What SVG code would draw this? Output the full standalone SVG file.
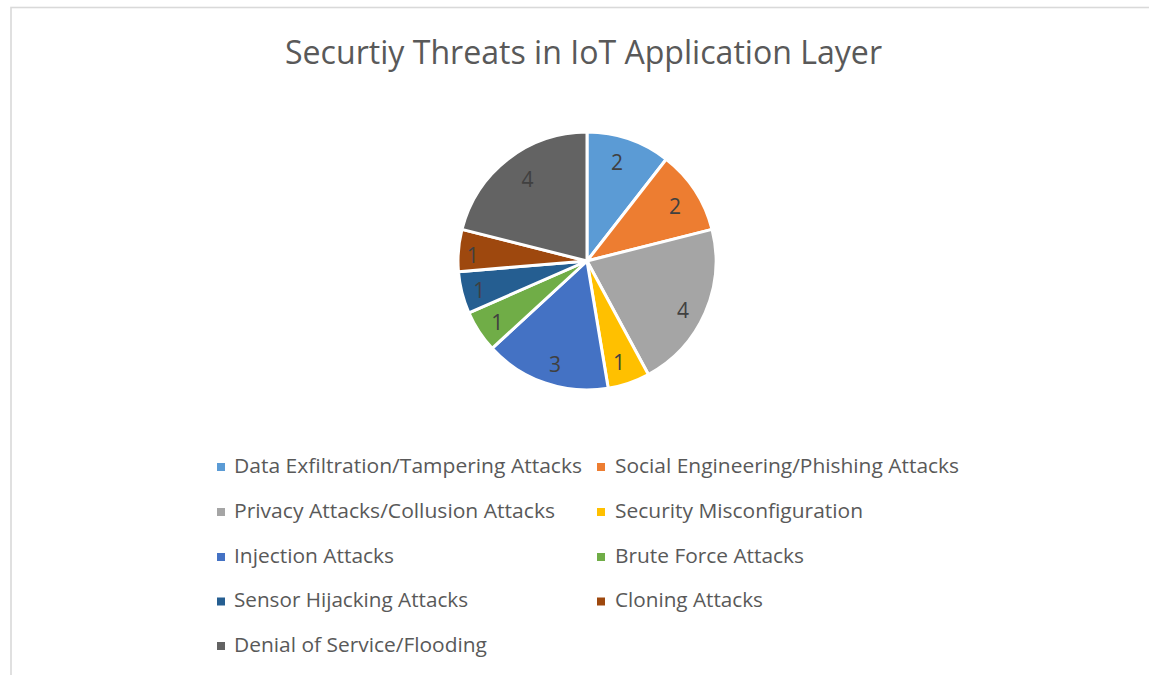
<svg xmlns="http://www.w3.org/2000/svg" width="1149" height="675" viewBox="0 0 1149 675">
<style>
.slice{stroke:#ffffff;stroke-width:3;stroke-linejoin:round}
.lbl{font-family:"Open Sans","Liberation Sans",sans-serif;font-size:21px;fill:#404040;text-anchor:middle}
.leg{font-family:"Open Sans","Liberation Sans",sans-serif;font-size:19.5px;fill:#595959}
.title{font-family:"Open Sans","Liberation Sans",sans-serif;font-size:33px;fill:#595959}
</style>
<rect x="0" y="0" width="1149" height="675" fill="#ffffff"/>
<rect x="11" y="7.5" width="1200" height="700" fill="#ffffff" stroke="#d9d9d9" stroke-width="1.6"/>
<text class="title" x="285" y="64.3" textLength="597" lengthAdjust="spacingAndGlyphs">Securtiy Threats in IoT Application Layer</text>
<g id="pie">
<g id="s1"><path class="slice" fill="#5B9BD5" d="M587,261 L587,132 A129,129 0 0 1 666.23,159.21 Z"/><text class="lbl" x="617" y="170">2</text></g>
<g id="s2"><path class="slice" fill="#ED7D31" d="M587,261 L666.23,159.21 A129,129 0 0 1 712.05,229.33 Z"/><text class="lbl" x="675" y="214">2</text></g>
<g id="s3"><path class="slice" fill="#A5A5A5" d="M587,261 L712.05,229.33 A129,129 0 0 1 648.39,374.46 Z"/><text class="lbl" x="683" y="317.5">4</text></g>
<g id="s4"><path class="slice" fill="#FFC000" d="M587,261 L648.39,374.46 A129,129 0 0 1 608.23,388.25 Z"/><text class="lbl" x="619" y="370.3">1</text></g>
<g id="s5"><path class="slice" fill="#4472C4" d="M587,261 L608.23,388.25 A129,129 0 0 1 492.09,348.37 Z"/><text class="lbl" x="555" y="371.7">3</text></g>
<g id="s6"><path class="slice" fill="#70AD47" d="M587,261 L492.09,348.37 A129,129 0 0 1 468.86,312.82 Z"/><text class="lbl" x="497.3" y="330">1</text></g>
<g id="s7"><path class="slice" fill="#255E91" d="M587,261 L468.86,312.82 A129,129 0 0 1 458.44,271.65 Z"/><text class="lbl" x="479.3" y="297.5">1</text></g>
<g id="s8"><path class="slice" fill="#9E480E" d="M587,261 L458.44,271.65 A129,129 0 0 1 461.95,229.33 Z"/><text class="lbl" x="472.7" y="263.2">1</text></g>
<g id="s9"><path class="slice" fill="#636363" d="M587,261 L461.95,229.33 A129,129 0 0 1 587,132 Z"/><text class="lbl" x="527.5" y="186.7">4</text></g>
</g>
<g id="connectors"></g>
<g id="legend">
<g id="leg1"><rect x="217" y="463" width="8" height="8" fill="#5B9BD5"/><text class="leg" x="234" y="473.3" textLength="348" lengthAdjust="spacingAndGlyphs">Data Exfiltration/Tampering Attacks</text></g>
<g id="leg2"><rect x="597" y="463" width="8" height="8" fill="#ED7D31"/><text class="leg" x="615" y="473.3" textLength="344" lengthAdjust="spacingAndGlyphs">Social Engineering/Phishing Attacks</text></g>
<g id="leg3"><rect x="217" y="508" width="8" height="8" fill="#A5A5A5"/><text class="leg" x="234" y="518" textLength="321" lengthAdjust="spacingAndGlyphs">Privacy Attacks/Collusion Attacks</text></g>
<g id="leg4"><rect x="597" y="508" width="8" height="8" fill="#FFC000"/><text class="leg" x="615" y="518" textLength="248" lengthAdjust="spacingAndGlyphs">Security Misconfiguration</text></g>
<g id="leg5"><rect x="217" y="553" width="8" height="8" fill="#4472C4"/><text class="leg" x="234" y="562.7" textLength="160" lengthAdjust="spacingAndGlyphs">Injection Attacks</text></g>
<g id="leg6"><rect x="597" y="553" width="8" height="8" fill="#70AD47"/><text class="leg" x="615" y="562.7" textLength="189" lengthAdjust="spacingAndGlyphs">Brute Force Attacks</text></g>
<g id="leg7"><rect x="217" y="597.5" width="8" height="8" fill="#255E91"/><text class="leg" x="234" y="607.3" textLength="234" lengthAdjust="spacingAndGlyphs">Sensor Hijacking Attacks</text></g>
<g id="leg8"><rect x="597" y="597.5" width="8" height="8" fill="#9E480E"/><text class="leg" x="615" y="607.3" textLength="148" lengthAdjust="spacingAndGlyphs">Cloning Attacks</text></g>
<g id="leg9"><rect x="217" y="642" width="8" height="8" fill="#636363"/><text class="leg" x="234" y="652" textLength="253" lengthAdjust="spacingAndGlyphs">Denial of Service/Flooding</text></g>
</g>
</svg>
